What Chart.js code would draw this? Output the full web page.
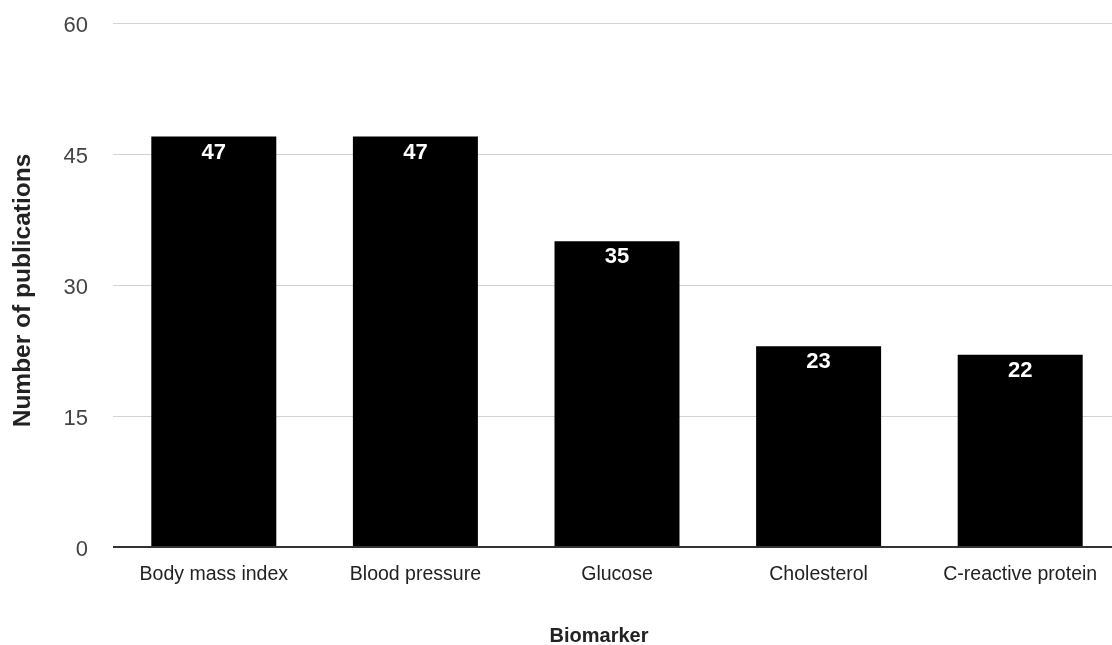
<!DOCTYPE html>
<html>
<head>
<meta charset="utf-8">
<title>Publications by biomarker</title>
<script src="https://cdn.jsdelivr.net/npm/chart.js@4/dist/chart.umd.min.js"></script>
<style>
  html, body { margin: 0; padding: 0; background: #ffffff; overflow: hidden; }
  #wrap { width: 1112px; height: 645px; position: relative; overflow: hidden; }
  #chart { position: absolute; left: 0; top: 0; }
</style>
</head>
<body>
<div id="wrap"><canvas id="chart" width="1121" height="645"></canvas></div>
<script>
// Number of publications per biomarker
const categories = ['Body mass index', 'Blood pressure', 'Glucose', 'Cholesterol', 'C-reactive protein'];
const publications = [47, 47, 35, 23, 22];
const yTicks = [0, 15, 30, 45, 60];
const xTitle = 'Biomarker';
const yTitle = 'Number of publications';

const FONT = '"Liberation Sans", Arial, sans-serif';

// White value labels just inside the top of each bar
const barValueLabels = {
  id: 'barValueLabels',
  afterDatasetsDraw(chart) {
    const { ctx } = chart;
    const meta = chart.getDatasetMeta(0);
    ctx.save();
    ctx.fillStyle = '#ffffff';
    ctx.font = 'bold 22px ' + FONT;
    ctx.textAlign = 'center';
    ctx.textBaseline = 'middle';
    meta.data.forEach((bar, i) => {
      ctx.fillText(String(publications[i]), bar.x, bar.y + 16);
    });
    ctx.restore();
  }
};

// Axis titles: horizontal one under the category labels, vertical one on the left
const axisTitles = {
  id: 'axisTitles',
  afterDraw(chart) {
    const { ctx } = chart;
    ctx.save();
    ctx.fillStyle = '#222222';
    ctx.textAlign = 'center';
    ctx.textBaseline = 'middle';
    ctx.font = 'bold 20px ' + FONT;
    ctx.fillText(xTitle, 599, 636);
    ctx.translate(23, 290.5);
    ctx.rotate(-Math.PI / 2);
    ctx.font = 'bold 24.5px ' + FONT;
    ctx.fillText(yTitle, 0, 0);
    ctx.restore();
  }
};

new Chart(document.getElementById('chart'), {
  type: 'bar',
  data: {
    labels: categories,
    datasets: [{
      data: publications,
      backgroundColor: '#000000',
      borderWidth: 0,
      categoryPercentage: 1.0,
      barPercentage: 0.62
    }]
  },
  options: {
    responsive: false,
    animation: false,
    layout: { padding: { top: 23, left: 0, right: 0, bottom: 0 } },
    plugins: {
      legend: { display: false },
      tooltip: { enabled: false }
    },
    scales: {
      x: {
        grid: { display: false, drawTicks: false },
        border: { display: false },
        ticks: {
          color: '#222222',
          font: { family: FONT, size: 19.5 },
          padding: 16,
          maxRotation: 0,
          autoSkip: false
        },
        afterFit(scale) { scale.height = 98; }
      },
      y: {
        min: 0,
        max: 60,
        afterBuildTicks(scale) { scale.ticks = yTicks.map(v => ({ value: v })); },
        grid: {
          drawTicks: false,
          color: (c) => (c.tick && c.tick.value === 0 ? '#333333' : '#d3d3d3'),
          lineWidth: (c) => (c.tick && c.tick.value === 0 ? 2 : 1)
        },
        border: { display: false },
        ticks: {
          color: '#444444',
          font: { family: FONT, size: 22 },
          padding: 25,
          labelOffset: 2.5
        },
        afterFit(scale) {
          scale.width = 113;
          scale.paddingTop = 0;
          scale.paddingBottom = 0;
        }
      }
    }
  },
  plugins: [barValueLabels, axisTitles]
});
</script>
</body>
</html>
